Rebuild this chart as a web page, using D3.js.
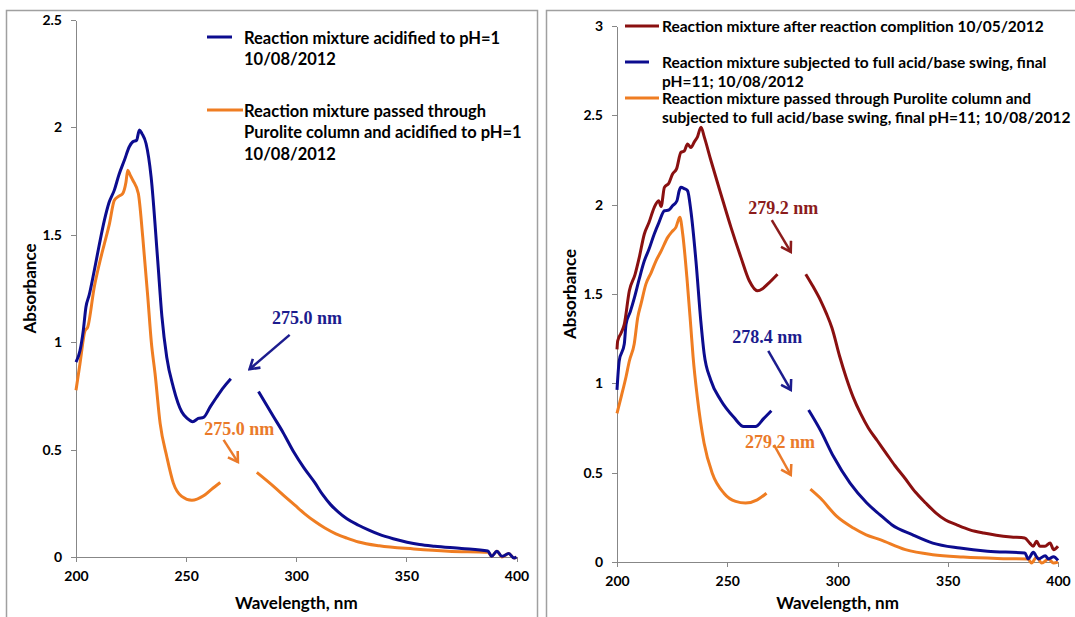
<!DOCTYPE html>
<html lang="en">
<head>
    <meta charset="utf-8">
    <title>UV spectra of reaction mixture</title>
    <script src="https://d3js.org/d3.v7.min.js"></script>
    <style>
        body {
            margin: 0;
            background: #fff;
            font-family: Lato, "Open Sans", sans-serif;
        }

        .axis path, .axis line {
            stroke: #878787;
            shape-rendering: crispEdges;
        }

        .axis text {
            font-family: Lato, sans-serif;
            font-weight: bold;
            font-size: 14px;
            fill: #000;
        }

        .title {
            font-weight: bold;
            font-size: 17px;
        }

        .legend text {
            font-weight: bold;
        }

        .note {
            font-family: "Liberation Serif", "Times New Roman", serif;
            font-weight: bold;
            font-size: 18px;
        }
    </style>
</head>
<body>
<script>

    var w = 1075;
    var h = 617;

    //axis ticks
    var wavelengthTicks = [200, 250, 300, 350, 400];
    var wavelengthLabels = ["200", "250", "300", "350", "400"];
    var leftAbsTicks = [0, 0.5, 1, 1.5, 2, 2.5];
    var leftAbsLabels = ["0", "0.5", "1", "1.5", "2", "2.5"];
    var rightAbsTicks = [0, 0.5, 1, 1.5, 2, 2.5, 3];
    var rightAbsLabels = ["0", "0.5", "1", "1.5", "2", "2.5", "3"];

    //spectra, [wavelength nm, absorbance]; null = part hidden behind the label box
    var leftBlue = [[200,0.907],[201.8,0.96],[203.3,1.054],[204.5,1.163],[206,1.22],[208.3,1.334],[210.5,1.45],
        [212.9,1.568],[215,1.65],[217.4,1.708],[219.5,1.78],[222,1.848],[224.2,1.91],[225.8,1.933],[227.5,1.94],
        [228.8,1.988],[230,1.97],[231.8,1.925],[234.1,1.77],[237.1,1.381],[239,1.12],[241.2,0.93],[244.2,0.79],
        [248,0.676],[250.5,0.645],[253,0.63],[255.5,0.645],[257.9,0.65],[261,0.7],[263.9,0.745],[267,0.79],
        [270.3,0.83], null, [282.9,0.77],[289.7,0.653],[294,0.58],[298.8,0.49],[303.5,0.415],[308.5,0.345],
        [312,0.29],[315.5,0.245],[319,0.21],[323,0.178],[328.3,0.148],[333,0.125],[337.7,0.105],[344,0.085],
        [350.3,0.069],[356,0.058],[362.8,0.05],[375,0.04],[387,0.028],
        [388.7,0.003],[391.1,0.027],[393.4,0.003],[396.5,0.016],[398.9,-0.005],[400,0]];

    var leftOrange = [[200,0.776],[201.8,0.9],[204.1,1.054],[205.3,1.07],[208.3,1.257],[210.6,1.365],[212.9,1.459],
        [215.2,1.552],[217.4,1.661],[219.5,1.68],[221.2,1.692],[222.7,1.746],[223.5,1.801],[224.5,1.78],[225.8,1.754],
        [228.3,1.692],[230.3,1.49],[232.6,1.21],[234.2,1.0],[235.9,0.853],[238.2,0.622],[241.2,0.468],[244.2,0.344],
        [248,0.282],[252.6,0.264],[257.9,0.285],[261.5,0.315],[265.5,0.347], null, [282.1,0.394],[289.7,0.329],
        [294.5,0.285],[299.5,0.24],[304,0.2],[308.5,0.165],[313,0.135],[318,0.108],[323,0.088],[328.3,0.07],
        [337.7,0.052],[353.4,0.0375],[369.1,0.027],
        [387.1,0.022],[388.7,0.003],[391.1,0.027],[393.4,0],[396.5,0.016],[398.9,-0.005],[400,0]];

    var rightMaroon = [[200,1.19],[200.3,1.237],[201.8,1.28],[203.3,1.33],[205.6,1.518],[208.2,1.61],[210.1,1.705],
        [212.4,1.836],[214.5,1.9],[216.9,1.985],[218.9,2.022],[220,1.99],[221.5,2.097],[223.5,2.12],[225.2,2.172],
        [227,2.2],[229,2.293],[230.5,2.3],[232,2.34],[233.5,2.32],[235,2.35],[236.5,2.38],[238.1,2.434],[239.6,2.378],
        [242.6,2.247],[247.1,2.06],[251.7,1.873],[256.2,1.705],[260,1.574],[263.7,1.518],[266,1.53],[268.3,1.555],
        [272.8,1.611], null, [285.6,1.611],[289,1.54],[292.4,1.462],[295,1.39],[297.5,1.31],[301,1.15],[304,1.03],
        [307.2,0.92],[310.5,0.83],[314,0.75],[318,0.68],[322,0.61],[326,0.54],[330.5,0.47],[335.4,0.39],
        [340,0.33],[344.7,0.274],[349,0.235],[353.9,0.209],[360,0.18],[366.3,0.162],[372,0.15],[378.7,0.14],
        [384.9,0.134],[387.2,0.106],[388.7,0.088],[390.3,0.116],[391.8,0.088],[394.1,0.088],[396.4,0.106],
        [398,0.069],[400,0.088]];

    var rightBlue = [[200,0.963],[201,1.125],[203.3,1.22],[204.1,1.33],[206,1.4],[207.9,1.48],[210,1.58],[212.4,1.686],
        [214.5,1.75],[216.9,1.836],[219,1.9],[221.5,1.966],[223.5,1.97],[225.2,1.994],[227.2,2.022],[228.2,2.078],
        [229,2.097],[230.5,2.09],[232,2.078],[233.5,1.966],[235.8,1.686],[238,1.35],[239.5,1.168],[242.5,1.019],
        [247,0.907],[253,0.81],[257.5,0.758],[262.8,0.758],[266.6,0.804],[270,0.847], null, [286.9,0.851],
        [292.2,0.739],[298.2,0.59],[305.7,0.441],[313.3,0.33],[319.3,0.264],[324.6,0.209],[333.9,0.153],
        [343.2,0.106],[355.5,0.078],[368,0.06],[385,0.05],[386.5,0.017],[388.8,0.054],[391.1,0.017],[394.2,0.035],
        [395.7,0.017],[398,0.03],[400,0.009]];

    var rightOrange = [[200,0.832],[202,0.93],[204.1,1.037],[205.6,1.125],[207.8,1.22],[209.4,1.368],[211,1.45],
        [213.1,1.555],[215.5,1.62],[217.7,1.686],[220,1.74],[223,1.817],[225,1.85],[226.7,1.873],[228.5,1.929],
        [229.8,1.836],[231.7,1.593],[233.5,1.312],[234.5,1.15],[236.4,0.925],[239.5,0.665],[243.2,0.497],
        [248.5,0.385],[253.8,0.339],[258.3,0.33],[263.6,0.348],[267.8,0.385], null, [287.7,0.408],[292.2,0.358],
        [299.7,0.255],[307.2,0.19],[313,0.152],[319.3,0.125],[330.8,0.069],[343.2,0.041],[357,0.028],[372.5,0.02],
        [386.4,0.017],[388,-0.006],[390.3,0.028],[392.6,-0.006],[395.7,0.017],[398,-0.006],[400,0]];

    //legend text
    var leftLegendBlue = ["Reaction mixture acidified to pH=1", "10/08/2012"];
    var leftLegendOrange = ["Reaction mixture passed through", "Purolite column and acidified to pH=1", "10/08/2012"];
    var rightLegendMaroon = ["Reaction mixture after reaction complition 10/05/2012"];
    var rightLegendBlue = ["Reaction mixture subjected to full acid/base swing, final", "pH=11; 10/08/2012"];
    var rightLegendOrange = ["Reaction mixture passed through Purolite column and",
        "subjected to full acid/base swing, final pH=11; 10/08/2012"];

    //peak notes: label position and arrow, in data units
    var leftNotes = [
        {text: "275.0 nm", color: "#1c1c8e", at: [304.9, 1.083], from: [297.0, 1.034], to: [278.8, 0.874]},
        {text: "275.0 nm", color: "#ea7a2a", at: [274.1, 0.568], from: [267.0, 0.545], to: [273.5, 0.442]}
    ];
    var rightNotes = [
        {text: "279.2 nm", color: "#8b1c1c", at: [275.4, 1.946], from: [270.2, 1.914], to: [278.8, 1.736]},
        {text: "278.4 nm", color: "#1c1c8e", at: [268.2, 1.228], from: [268.6, 1.182], to: [278.8, 0.963]},
        {text: "279.2 nm", color: "#ea7a2a", at: [273.9, 0.64], from: [271.2, 0.655], to: [278.8, 0.487]}
    ];

    var blue = "#0c0c8f";
    var orange = "#ef7d22";
    var maroon = "#8a1010";

    var svg = d3.select("body")
        .append("svg")
        .attr("width", w)
        .attr("height", h);

    //arrow heads, one per colour
    var defs = svg.append("defs");
    ["#1c1c8e", "#ea7a2a", "#8b1c1c"].forEach(function(c, i) {
        defs.append("marker")
            .attr("id", "head" + i)
            .attr("markerUnits", "userSpaceOnUse")
            .attr("markerWidth", 14)
            .attr("markerHeight", 14)
            .attr("viewBox", "0 0 12 12")
            .attr("refX", 10)
            .attr("refY", 6)
            .attr("orient", "auto")
            .append("path")
            .attr("d", "M2,1 L10,6 L2,11")
            .attr("fill", "none")
            .attr("stroke", c)
            .attr("stroke-width", 2.2);
    });
    var headFor = {"#1c1c8e": "head0", "#ea7a2a": "head1", "#8b1c1c": "head2"};

    //panel frames
    svg.append("rect").attr("x", 6.5).attr("y", 10.5).attr("width", 531).attr("height", 640)
        .attr("fill", "none").attr("stroke", "#a0a0a0").attr("stroke-width", 1.5);
    svg.append("rect").attr("x", 546.5).attr("y", 10.5).attr("width", 560).attr("height", 640)
        .attr("fill", "none").attr("stroke", "#a0a0a0").attr("stroke-width", 1.5);

    function drawPanel(p) {
        var xScale = d3.scaleLinear().domain([200, 400]).range(p.xRange);
        var yScale = d3.scaleLinear().domain([0, p.yMax]).range(p.yRange);

        var g = svg.append("g");

        //y axis
        g.append("g")
            .attr("class", "axis")
            .attr("transform", "translate(" + p.xRange[0] + ",0)")
            .call(d3.axisLeft(yScale)
                .tickValues(p.yTicks)
                .tickFormat(function(d, i) { return p.yLabels[i]; })
                .tickSize(5).tickSizeOuter(0).tickPadding(9));

        //x axis
        g.append("g")
            .attr("class", "axis")
            .attr("transform", "translate(0," + p.yRange[0] + ")")
            .call(d3.axisBottom(xScale)
                .tickValues(wavelengthTicks)
                .tickFormat(function(d, i) { return wavelengthLabels[i]; })
                .tickSize(5).tickSizeOuter(0).tickPadding(9));

        //axis titles
        g.append("text")
            .attr("class", "title")
            .attr("text-anchor", "middle")
            .attr("transform", "translate(" + p.yTitleX + "," + (p.yRange[0] + p.yRange[1]) / 2 + ") rotate(-90)")
            .attr("dy", "0.35em")
            .text("Absorbance");
        g.append("text")
            .attr("class", "title")
            .attr("text-anchor", "middle")
            .attr("x", (p.xRange[0] + p.xRange[1]) / 2)
            .attr("y", 603)
            .attr("dy", "0.35em")
            .text("Wavelength, nm");

        //curves
        var line = d3.line()
            .defined(function(d) { return d !== null; })
            .curve(d3.curveMonotoneX)
            .x(function(d) { return xScale(d[0]); })
            .y(function(d) { return yScale(d[1]); });

        p.series.forEach(function(s) {
            g.append("path")
                .datum(s.data)
                .attr("d", line)
                .attr("fill", "none")
                .attr("stroke", s.color)
                .attr("stroke-width", 3)
                .attr("stroke-linejoin", "round");
        });

        //notes with arrows
        p.notes.forEach(function(n) {
            g.append("line")
                .attr("x1", xScale(n.from[0])).attr("y1", yScale(n.from[1]))
                .attr("x2", xScale(n.to[0])).attr("y2", yScale(n.to[1]))
                .attr("stroke", n.color)
                .attr("stroke-width", 2.5)
                .attr("marker-end", "url(#" + headFor[n.color] + ")");
            g.append("text")
                .attr("class", "note")
                .attr("text-anchor", "middle")
                .attr("x", xScale(n.at[0]))
                .attr("y", yScale(n.at[1]))
                .attr("fill", n.color)
                .text(n.text);
        });

        //legend
        var lg = g.append("g").attr("class", "legend");
        p.legend.forEach(function(e) {
            lg.append("line")
                .attr("x1", e.x1).attr("x2", e.x2)
                .attr("y1", e.y).attr("y2", e.y)
                .attr("stroke", e.color)
                .attr("stroke-width", 3);
            e.lines.forEach(function(t, i) {
                lg.append("text")
                    .attr("x", p.legendTextX)
                    .attr("y", e.y + 1 + i * p.legendStep)
                    .attr("dy", "0.35em")
                    .style("font-size", p.legendSize + "px")
                    .text(t);
            });
        });
    }

    drawPanel({
        xRange: [76, 516.5],
        yRange: [557, 20],
        yMax: 2.5,
        yTicks: leftAbsTicks,
        yLabels: leftAbsLabels,
        yTitleX: 30,
        series: [{data: leftOrange, color: orange}, {data: leftBlue, color: blue}],
        notes: leftNotes,
        legendTextX: 244,
        legendStep: 21.5,
        legendSize: 16.5,
        legend: [
            {lines: leftLegendBlue, color: blue, x1: 207, x2: 232, y: 37},
            {lines: leftLegendOrange, color: orange, x1: 207, x2: 243, y: 110}
        ]
    });

    drawPanel({
        xRange: [617, 1058],
        yRange: [562, 26],
        yMax: 3,
        yTicks: rightAbsTicks,
        yLabels: rightAbsLabels,
        yTitleX: 570,
        series: [{data: rightOrange, color: orange}, {data: rightBlue, color: blue}, {data: rightMaroon, color: maroon}],
        notes: rightNotes,
        legendTextX: 662,
        legendStep: 19,
        legendSize: 15.5,
        legend: [
            {lines: rightLegendMaroon, color: maroon, x1: 625, x2: 659, y: 26},
            {lines: rightLegendBlue, color: blue, x1: 625, x2: 649, y: 62},
            {lines: rightLegendOrange, color: orange, x1: 625, x2: 659, y: 98}
        ]
    });

</script>
</body>
</html>
